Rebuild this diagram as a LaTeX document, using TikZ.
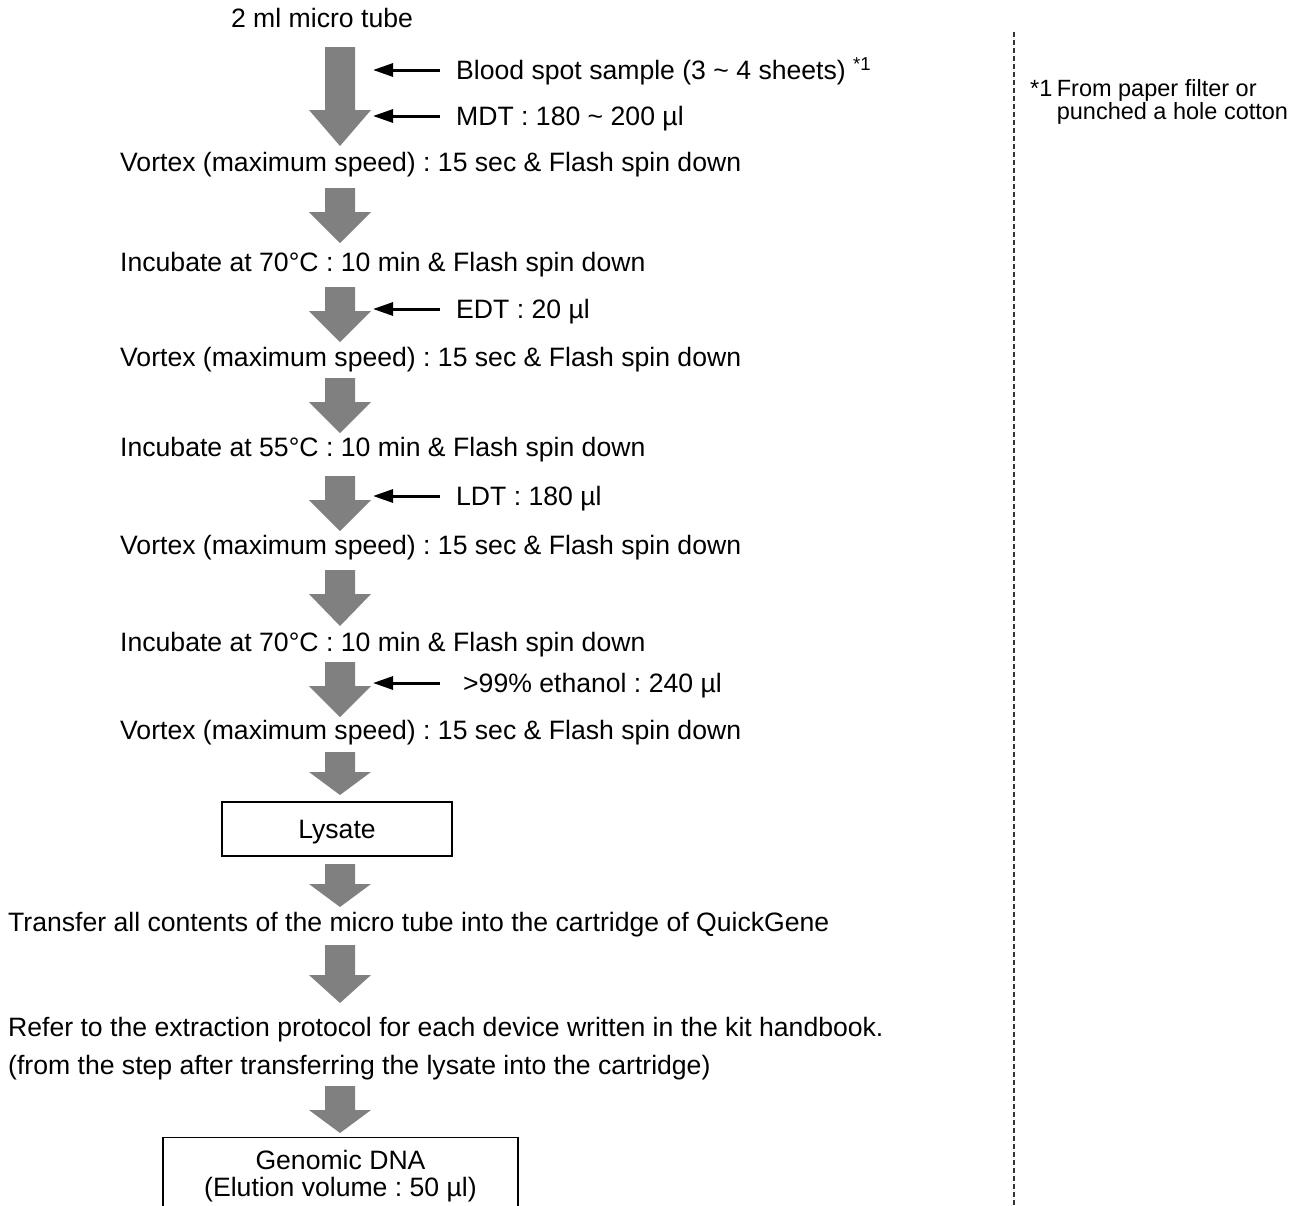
\documentclass[tikz,border=0pt]{standalone}
\usepackage{fontspec}
\setmainfont{Liberation Sans}
\usetikzlibrary{arrows.meta}
\usetikzlibrary{positioning}
\frenchspacing
\tikzset{txt/.style = {anchor = west, inner sep = 0, text height = 19pt, text depth = 0pt,
    font = \fontsize{26.6pt}{30pt}\selectfont}}
\tikzset{note/.style = {txt, text height = 16.8pt, font = \fontsize{23.5pt}{25pt}\selectfont}}
\tikzset{box/.style = {txt, anchor = center, draw, line width = 1.3pt}}
\tikzset{flow/.style = {fill = black!50}}
\tikzset{feed/.style = {-{Triangle[length = 20pt, width = 13pt]}, line width = 3pt}}
\tikzset{sep/.style = {line width = 1.3pt, dash pattern = on 5pt off 3pt, black!80}}
\newcommand{\flowarrow}[3]{%
  \fill [flow] (325, #1) -- (355, #1) -- (355, #2) -- (371, #2) -- (340, #3)
    -- (309, #2) -- (325, #2) -- cycle;}

\begin{document}
\begin{tikzpicture}[x = 1pt, y = -1pt]
    \useasboundingbox (0, 0) rectangle (1312, 1205);

    \node [txt, anchor = center] (tube) at (322, 18) {2 ml micro tube};
    \node [txt] (blood) at (456, 70) {Blood spot sample (3 \textasciitilde{} 4 sheets) \textsuperscript{*1}};
    \node [txt] (mdt) at (456, 116) {MDT : 180 \textasciitilde{} 200 µl};
    \node [txt] (vortexa) at (120, 162) {Vortex (maximum speed) : 15 sec \& Flash spin down};
    \node [txt] (incuba) at (120, 262) {Incubate at 70°C : 10 min \& Flash spin down};
    \node [txt] (edt) at (456, 309) {EDT : 20 µl};
    \node [txt] (vortexb) at (120, 357) {Vortex (maximum speed) : 15 sec \& Flash spin down};
    \node [txt] (incubb) at (120, 447) {Incubate at 55°C : 10 min \& Flash spin down};
    \node [txt] (ldt) at (456, 496) {LDT : 180 µl};
    \node [txt] (vortexc) at (120, 545) {Vortex (maximum speed) : 15 sec \& Flash spin down};
    \node [txt] (incubc) at (120, 642) {Incubate at 70°C : 10 min \& Flash spin down};
    \node [txt] (etoh) at (463, 683) {>99\% ethanol : 240 µl};
    \node [txt] (vortexd) at (120, 730) {Vortex (maximum speed) : 15 sec \& Flash spin down};
    \node [box, minimum width = 230pt, minimum height = 54pt] (lysate) at (337, 829) {Lysate};
    \node [txt] (transfer) at (8, 922) {Transfer all contents of the micro tube into the cartridge of QuickGene};
    \node [txt] (refer) at (8, 1027) {Refer to the extraction protocol for each device written in the kit handbook.};
    \node [txt] (after) at (8, 1065) {(from the step after transferring the lysate into the cartridge)};
    \node [box, anchor = north, minimum width = 355pt, minimum height = 110pt] (dna) at (340.5, 1137) {};
    \node [txt, anchor = center] (dnaa) at (340.5, 1160) {Genomic DNA};
    \node [txt, anchor = center] (dnab) at (340.5, 1187) {(Elution volume : 50 µl)};

    % gray flow arrows
    \flowarrow{47}{110}{146}
    \flowarrow{188}{212}{243}
    \flowarrow{287}{311}{342}
    \flowarrow{378}{402}{433}
    \flowarrow{476}{500}{531}
    \flowarrow{570}{594}{626}
    \flowarrow{662}{686}{717}
    \flowarrow{752}{772}{795}
    \flowarrow{864}{884}{907}
    \flowarrow{945}{975}{1003}
    \flowarrow{1086}{1110}{1133}

    % reagents added
    \coordinate (ina) at (373, 70);
    \coordinate (inb) at (373, 116);
    \coordinate (inc) at (373, 309);
    \coordinate (ind) at (373, 496);
    \coordinate (ine) at (373, 683);
    \draw [feed] ([xshift = -16pt]blood.west) -- (ina);
    \draw [feed] ([xshift = -16pt]mdt.west) -- (inb);
    \draw [feed] ([xshift = -16pt]edt.west) -- (inc);
    \draw [feed] ([xshift = -16pt]ldt.west) -- (ind);
    \draw [feed] ([xshift = -23pt]etoh.west) -- (ine);

    % footnote
    \coordinate (septop) at (1014, 32);
    \coordinate (sepbot) at (1014, 1205);
    \draw [sep] (septop) -- (sepbot);
    \node [note] (star) at (1030, 88) {*1};
    \node [note, right = 4pt of star] (fna) {From paper filter or};
    \node [note, below = 23pt of fna.west, anchor = west] (fnb) {punched a hole cotton};
  \end{tikzpicture}
\end{document}
